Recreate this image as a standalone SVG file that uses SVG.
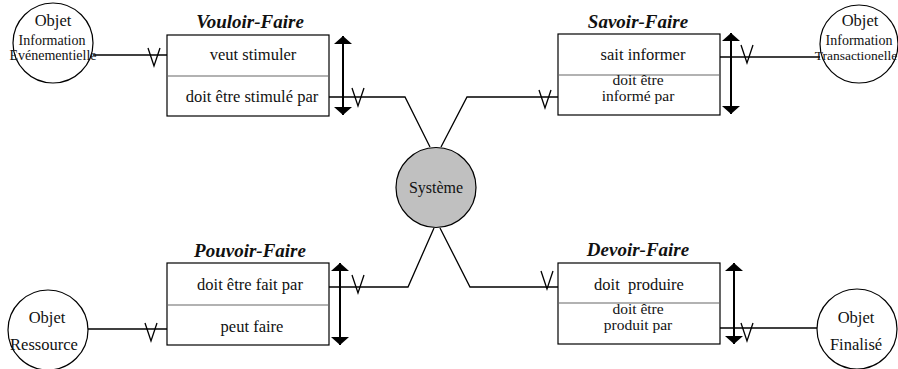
<svg xmlns="http://www.w3.org/2000/svg" width="898" height="369" viewBox="0 0 898 369">
<style>
text{font-family:"Liberation Serif","Times New Roman",Times,serif;fill:#111;text-anchor:middle}
.row{font-size:16.5px}
.row2{font-size:15.5px}
.title{font-size:19px;font-weight:bold;font-style:italic}
.obj{font-size:16.5px}
.info{font-size:14px}
.box{fill:#fff;stroke:#000;stroke-width:1.2}
.div{stroke:#666;stroke-width:1.2}
.ln{fill:none;stroke:#000;stroke-width:1.3}
.circ{fill:#fff;stroke:#000;stroke-width:1.2}
.dbl{stroke:#000;stroke-width:2;marker-start:url(#ah);marker-end:url(#ah)}
</style>
<defs>
<marker id="ah" markerUnits="userSpaceOnUse" markerWidth="9" markerHeight="19" refX="8" refY="9" orient="auto-start-reverse" viewBox="0 0 9 18">
<path d="M0,0 L8,9 L0,18 z" fill="#000"/>
</marker>
<path id="crow" d="M-6,0 L0,18 L6,0" fill="none" stroke="#000" stroke-width="1.3"/>
</defs>

<g id="connectors">
<line class="ln" x1="93" y1="55" x2="167" y2="55"/>
<use href="#crow" x="154" y="48"/>
<polyline class="ln" points="329,97 405,97 430,147"/>
<use href="#crow" x="358" y="88"/>
<polyline class="ln" points="558,97 467,97 441,147"/>
<use href="#crow" x="545" y="90"/>
<line class="ln" x1="720" y1="57" x2="820" y2="57"/>
<use href="#crow" x="747" y="45"/>
<polyline class="ln" points="329,287 408,287 434,228"/>
<use href="#crow" x="358" y="275"/>
<line class="ln" x1="88" y1="329" x2="167" y2="329"/>
<use href="#crow" x="151" y="323"/>
<polyline class="ln" points="558,287 470,287 440,228"/>
<use href="#crow" x="547" y="271"/>
<line class="ln" x1="720" y1="328" x2="817" y2="328"/>
<use href="#crow" x="747" y="323"/>
<line class="dbl" x1="343" y1="36" x2="343" y2="115"/>
<line class="dbl" x1="731" y1="33" x2="731" y2="114"/>
<line class="dbl" x1="340" y1="263" x2="340" y2="345"/>
<line class="dbl" x1="734" y1="263" x2="734" y2="344"/>
</g>

<g id="systeme">
<circle cx="436" cy="187.5" r="40" fill="#c0c0c0" stroke="#000" stroke-width="1.2"/>
<text x="436" y="193" style="font-size:16px">Système</text>
</g>

<g id="vouloir">
<text class="title" x="250" y="28">Vouloir-Faire</text>
<rect class="box" x="167" y="35" width="162" height="81"/>
<line class="div" x1="167" y1="76" x2="329" y2="76"/>
<text class="row" x="253" y="60">veut stimuler</text>
<text class="row" x="252" y="102">doit être stimulé par</text>
</g>

<g id="savoir">
<text class="title" x="638" y="28">Savoir-Faire</text>
<rect class="box" x="558" y="34" width="162" height="81"/>
<line class="div" x1="558" y1="75" x2="720" y2="75"/>
<text class="row" x="643" y="60">sait informer</text>
<text class="row2" x="638" y="85">doit être</text>
<text class="row2" x="638" y="101">informé par</text>
</g>

<g id="pouvoir">
<text class="title" x="250" y="257">Pouvoir-Faire</text>
<rect class="box" x="167" y="263" width="162" height="82"/>
<line class="div" x1="167" y1="305" x2="329" y2="305"/>
<text class="row" x="250" y="290">doit être fait par</text>
<text class="row" x="252" y="332">peut faire</text>
</g>

<g id="devoir">
<text class="title" x="638" y="256">Devoir-Faire</text>
<rect class="box" x="558" y="263" width="162" height="81"/>
<line class="div" x1="558" y1="303" x2="720" y2="303"/>
<text class="row" x="639" y="290" style="white-space:pre">doit  produire</text>
<text class="row2" x="638" y="314">doit être</text>
<text class="row2" x="638" y="330">produit par</text>
</g>

<g id="obj-evenementielle">
<circle class="circ" cx="53" cy="43" r="40"/>
<text class="obj" x="53" y="26">Objet</text>
<text class="info" x="52" y="45">Information</text>
<text class="info" x="53" y="60">Evénementielle</text>
</g>

<g id="obj-transactionelle">
<circle class="circ" cx="859" cy="44" r="39"/>
<text class="obj" x="860" y="26">Objet</text>
<text class="info" x="859" y="45">Information</text>
<text class="info" x="856" y="60" style="font-size:13.5px">Transactionelle</text>
</g>

<g id="obj-ressource">
<circle class="circ" cx="48" cy="330" r="40"/>
<text class="obj" x="47" y="323">Objet</text>
<text class="obj" x="44" y="350">Ressource</text>
</g>

<g id="obj-finalise">
<circle class="circ" cx="857" cy="329" r="40"/>
<text class="obj" x="856" y="323">Objet</text>
<text class="obj" x="856" y="350">Finalisé</text>
</g>
</svg>
